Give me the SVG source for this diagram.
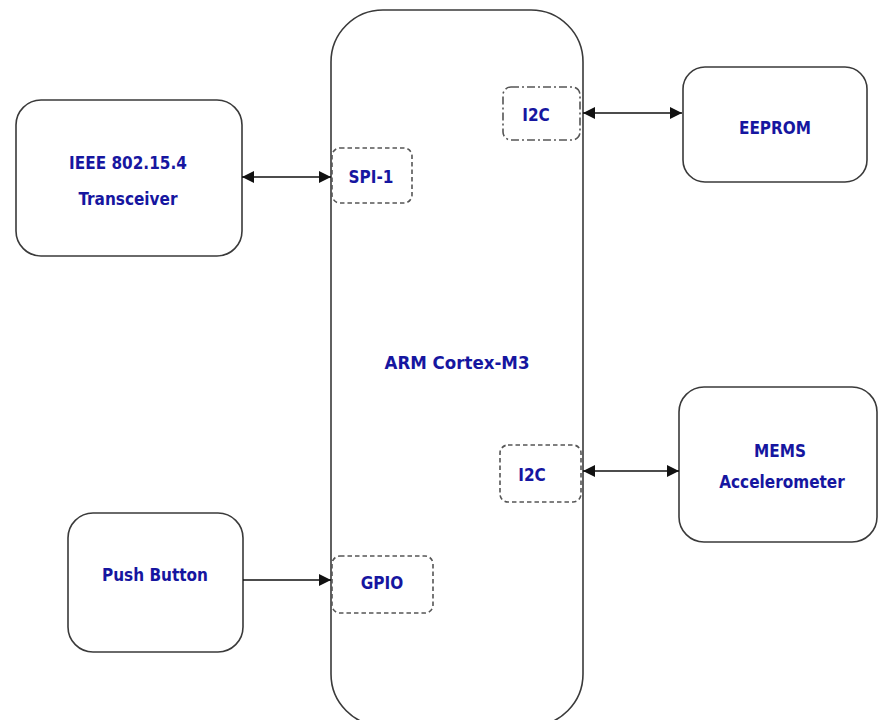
<svg xmlns="http://www.w3.org/2000/svg" width="878" height="720" viewBox="0 0 878 720">
<style>
.box{fill:#fff;stroke:#3a3a3a;stroke-width:1.6}
.port{fill:none;stroke:#555;stroke-width:1.6;stroke-dasharray:4.5,3}
.portdd{fill:none;stroke:#555;stroke-width:1.6;stroke-dasharray:8,3,2,3}
.lbl{font-family:"DejaVu Sans Condensed","DejaVu Sans",sans-serif;font-weight:bold;font-size:17px;fill:#1616a0;text-anchor:middle;dominant-baseline:central}
.conn{stroke:#111;stroke-width:1.6;fill:none}
</style>
<defs>
<marker id="ah" viewBox="0 0 12 12" refX="12" refY="6" markerWidth="12" markerHeight="12" markerUnits="userSpaceOnUse" orient="auto-start-reverse">
<path d="M0,0 L12,6 L0,12 z" fill="#111"/>
</marker>
</defs>
<rect width="878" height="720" fill="#fff"/>
<g id="arm">
<rect class="box" x="331" y="10" width="252" height="716" rx="52"/>
<text class="lbl" x="457" y="362" style="font-size:18.5px">ARM Cortex-M3</text>
</g>
<g id="spi1">
<rect class="port" x="332" y="148" width="80" height="55" rx="8"/>
<text class="lbl" x="371" y="177">SPI-1</text>
</g>
<g id="i2c-top">
<rect class="portdd" x="503" y="87" width="77" height="53" rx="8"/>
<text class="lbl" x="536" y="115">I2C</text>
</g>
<g id="i2c-bottom">
<rect class="port" x="500" y="445" width="81" height="57" rx="8"/>
<text class="lbl" x="532" y="475">I2C</text>
</g>
<g id="gpio">
<rect class="port" x="332" y="556" width="101" height="57" rx="8"/>
<text class="lbl" x="382" y="583">GPIO</text>
</g>
<g id="transceiver">
<rect class="box" x="16" y="100" width="226" height="156" rx="25"/>
<text class="lbl" x="128" y="163">IEEE 802.15.4</text>
<text class="lbl" x="128" y="199">Transceiver</text>
</g>
<g id="eeprom">
<rect class="box" x="683" y="67" width="184" height="115" rx="22"/>
<text class="lbl" x="775" y="128">EEPROM</text>
</g>
<g id="mems">
<rect class="box" x="679" y="387" width="198" height="155" rx="25"/>
<text class="lbl" x="780" y="451">MEMS</text>
<text class="lbl" x="782" y="482">Accelerometer</text>
</g>
<g id="pushbutton">
<rect class="box" x="68" y="513" width="175" height="139" rx="25"/>
<text class="lbl" x="155" y="575">Push Button</text>
</g>
<g id="connectors">
<line class="conn" x1="242" y1="177" x2="331" y2="177" marker-start="url(#ah)" marker-end="url(#ah)"/>
<line class="conn" x1="583" y1="113" x2="682" y2="113" marker-start="url(#ah)" marker-end="url(#ah)"/>
<line class="conn" x1="583" y1="471" x2="679" y2="471" marker-start="url(#ah)" marker-end="url(#ah)"/>
<line class="conn" x1="243" y1="580" x2="331" y2="580" stroke="#555" stroke-width="2" marker-end="url(#ah)"/>
</g>
</svg>
